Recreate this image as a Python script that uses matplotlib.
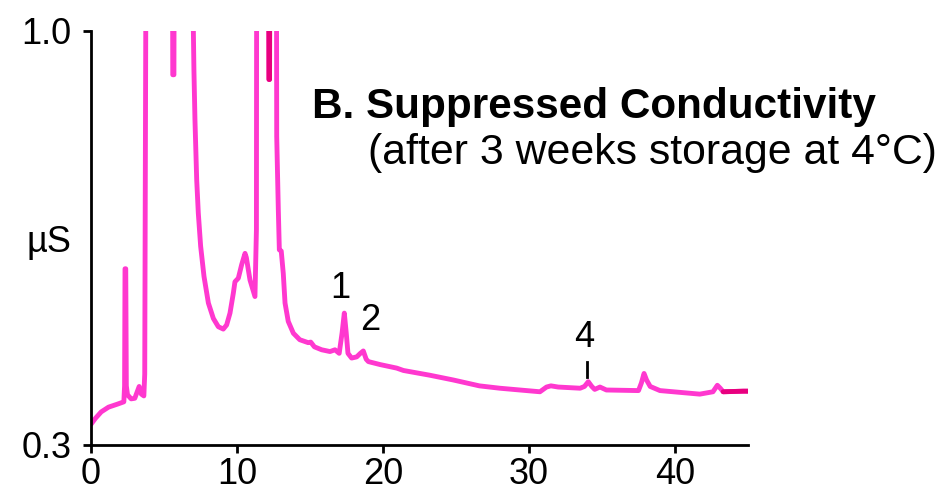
import matplotlib

matplotlib.use("Agg")
import matplotlib.pyplot as plt
import numpy as np

plt.rcParams["font.family"] = ["Liberation Sans", "DejaVu Sans"]

# chromatogram trace, retention time (min) vs conductivity (uS)
time_min = [
    0.0, 0.3, 0.7, 1.2, 1.8, 2.25, 2.3, 2.33, 2.38, 2.42, 2.5, 2.75, 3.0, 3.3,
    3.45, 3.62, 3.68, 3.75, 3.8, 5.55, 5.6, 5.68, 5.73, 6.95, 7.0, 7.05, 7.12,
    7.24, 7.35, 7.51, 7.74, 8.04, 8.38, 8.72, 9.06, 9.29, 9.52, 9.75, 9.86,
    10.09, 10.32, 10.55, 10.64, 10.89, 11.23, 11.33, 11.36, 12.15, 12.19,
    12.23, 12.27, 12.68, 12.72, 12.83, 12.9, 13.03, 13.17, 13.29, 13.51,
    13.86, 14.3, 14.88, 15.05, 15.3, 15.8, 16.37, 16.71, 17.0, 17.2, 17.35,
    17.48, 17.6, 17.85, 18.2, 18.45, 18.65, 18.85, 19.0, 19.8, 20.94, 21.4,
    23.2, 24.8, 26.6, 28.0, 30.75, 31.2, 31.5, 32.0, 33.5, 33.8, 34.06, 34.3,
    34.5, 34.86, 35.3, 37.5, 37.7, 37.88, 38.05, 38.3, 38.97, 41.7, 42.6,
    42.9, 43.1, 43.3, 44.7, 45.0,
]
signal_us = [
    0.335, 0.345, 0.356, 0.364, 0.369, 0.373, 0.40, 0.598, 0.598, 0.40, 0.385,
    0.378, 0.379, 0.399, 0.386, 0.383, 0.42, 1.0, 1.5, 1.5, 0.926, 0.926, 1.5,
    1.5, 1.02, 0.934, 0.85, 0.748, 0.692, 0.636, 0.585, 0.540, 0.514, 0.50,
    0.496, 0.503, 0.523, 0.557, 0.576, 0.582, 0.605, 0.624, 0.617, 0.579,
    0.551, 0.664, 1.5, 1.5, 0.918, 0.918, 1.5, 1.5, 0.822, 0.698, 0.63, 0.628,
    0.59, 0.54, 0.509, 0.489, 0.478, 0.473, 0.474, 0.466, 0.461, 0.458,
    0.461, 0.455, 0.49, 0.523, 0.49, 0.455, 0.447, 0.449, 0.455, 0.459,
    0.445, 0.441, 0.436, 0.430, 0.426, 0.418, 0.410, 0.400, 0.396, 0.390,
    0.398, 0.400, 0.398, 0.396, 0.399, 0.407, 0.399, 0.394, 0.398, 0.393,
    0.392, 0.405, 0.421, 0.41, 0.399, 0.392, 0.386, 0.390, 0.401, 0.396,
    0.390, 0.391, 0.391,
]

# numbered peak labels
peak_names = ["1", "2", "4"]
peak_label_x = [17.05, 19.1, 33.8]
peak_label_y = [0.564, 0.51, 0.481]
peak4_tick_x = 33.95
peak4_tick_y = [0.415, 0.441]

x_ticks = [0, 10, 20, 30, 40]
y_ticks = [0.3, 1.0]
y_tick_labels = ["0.3", "1.0"]

PINK = "#ff38cf"
DEEP = "#e8007e"
LW = 3.5

t = np.array(time_min)
s = np.array(signal_us)

fig = plt.figure(figsize=(9.39, 4.91), dpi=100)
ax = fig.add_axes([91 / 939, 46 / 491, 657 / 939, 414 / 491])

ax.plot(t, s, color=PINK, lw=LW, solid_joinstyle="round", solid_capstyle="round")
# a couple of stretches of the trace come out in a deeper magenta
for lo, hi in [(12.14, 12.28), (43.25, 45.0)]:
    m = (t >= lo) & (t <= hi)
    ax.plot(t[m], s[m], color=DEEP, lw=LW, solid_capstyle="round")

for name, px, py in zip(peak_names, peak_label_x, peak_label_y):
    ax.text(px, py, name, fontsize=26, ha="center", va="center")
ax.plot([peak4_tick_x, peak4_tick_x], peak4_tick_y, color="black", lw=2)

ax.set_xlim(0, 45)
ax.set_ylim(0.3, 1.0)
ax.set_xticks(x_ticks)
ax.set_yticks(y_ticks)
ax.set_yticklabels(y_tick_labels)
ax.tick_params(axis="both", labelsize=26, width=2, length=6, direction="out")
ax.tick_params(axis="x", pad=3)
ax.tick_params(axis="y", pad=8)
for side in ("top", "right"):
    ax.spines[side].set_visible(False)
for side in ("left", "bottom"):
    ax.spines[side].set_linewidth(2)

ax.text(-0.03, 0.642, "µS", fontsize=26, ha="right", va="center",
        transform=ax.get_yaxis_transform())

fig.text(312 / 939, 1 - 118 / 491, "B. Suppressed Conductivity",
         fontsize=30.4, fontweight="bold", ha="left", va="baseline")
fig.text(368 / 939, 1 - 164 / 491, "(after 3 weeks storage at 4°C)",
         fontsize=30.8, ha="left", va="baseline")

fig.savefig("out.png", dpi=100)
